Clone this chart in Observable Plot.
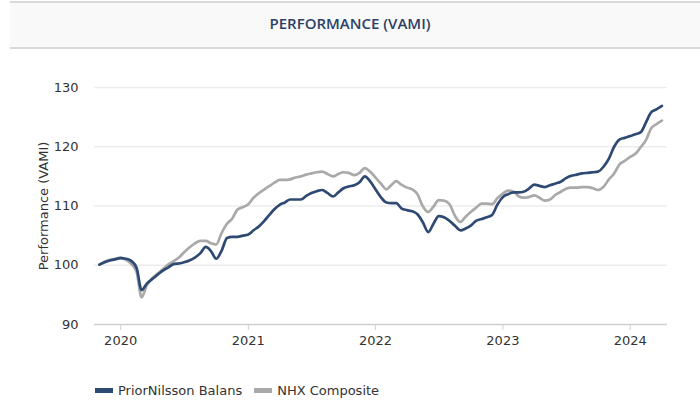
<!DOCTYPE html>
<html><head><meta charset="utf-8">
<script src="https://cdn.jsdelivr.net/npm/d3@7"></script>
<script src="https://cdn.jsdelivr.net/npm/@observablehq/plot@0.6"></script>
<style>
html,body{margin:0;padding:0;background:#fff;}
#wrap{position:relative;width:700px;height:405px;overflow:hidden;font-family:"DejaVu Sans",Verdana,sans-serif;}
#band{position:absolute;left:10px;top:1px;width:690px;height:44px;background:#f9f9f9;border-top:2px solid #d9d9d9;border-bottom:2px solid #d9d9d9;}
#title{position:absolute;left:0;width:700px;top:13px;text-align:center;font-family:"Open Sans",sans-serif;font-weight:600;font-size:15px;color:#2c4167;}
#chart{position:absolute;left:0;top:60px;}
#legend{position:absolute;left:95px;top:383px;display:flex;align-items:center;font-size:13px;color:#333;white-space:nowrap;}
.sw{display:inline-block;width:18px;height:5px;margin-right:5px;}
.item{display:flex;align-items:center;margin-right:12px;}
</style></head>
<body><div id="wrap">
<div id="band"></div>
<div id="title">PERFORMANCE (VAMI)</div>
<div id="chart"></div>
<div id="legend"></div>
</div>
<script>
const seriesNames = ["PriorNilsson Balans", "NHX Composite"];
const seriesColors = ["#2f4a72", "#a9a9a9"];
const yearTicks = ["2020", "2021", "2022", "2023", "2024"];
const yTicks = [90, 100, 110, 120, 130];
// semi-monthly observation dates (1st and 16th of each month), 2019-11-01 .. 2024-04-01
const dates = [];
for (const m of d3.utcMonth.range(new Date("2019-11-01"), new Date("2024-04-02"))) {
  dates.push(m);
  const mid = new Date(m); mid.setUTCDate(16);
  if (mid <= new Date("2024-04-01")) dates.push(mid);
}
dates.length = 107;
const prior = [
100.1,100.5,100.8,101.0,101.2,101.1,100.7,99.5,95.8,96.9,
97.7,98.4,99.1,99.6,100.2,100.3,100.5,100.8,101.3,102.0,
103.1,102.4,101.1,102.4,104.6,104.8,104.8,105.0,105.2,105.9,
106.6,107.5,108.4,109.4,110.2,110.6,111.1,111.1,111.1,111.7,
112.2,112.5,112.7,112.2,111.6,112.3,113.0,113.3,113.5,114.0,
115.0,114.2,112.8,111.5,110.6,110.5,110.5,109.6,109.3,109.1,
108.6,107.3,105.6,107.0,108.3,108.1,107.5,106.7,105.9,106.2,
106.7,107.5,107.8,108.1,108.5,110.2,111.5,112.0,112.3,112.3,
112.4,112.9,113.6,113.4,113.2,113.5,113.8,114.1,114.7,115.1,
115.3,115.5,115.6,115.7,115.8,116.6,118.0,120.0,121.2,121.5,
121.8,122.1,122.5,124.2,125.8,126.3,126.9];
const nhx = [
100.1,100.6,100.9,101.1,101.3,100.9,100.2,98.8,94.6,96.6,
97.8,98.6,99.3,100.1,100.7,101.3,102.2,103.0,103.7,104.1,
104.1,103.7,103.5,105.4,107.0,107.9,109.4,109.8,110.3,111.4,
112.2,112.8,113.3,113.9,114.4,114.4,114.5,114.8,115.0,115.3,
115.5,115.7,115.8,115.4,115.0,115.4,115.7,115.6,115.2,115.6,
116.4,115.8,114.8,113.8,112.8,113.6,114.2,113.6,113.1,112.8,
112.0,110.0,109.0,109.9,111.0,110.9,110.3,108.4,107.3,108.2,
109.0,109.7,110.4,110.4,110.3,111.3,112.1,112.6,112.4,111.6,
111.4,111.5,111.8,111.4,110.9,111.1,111.9,112.4,112.9,113.1,
113.1,113.2,113.2,113.0,112.7,113.2,114.5,115.5,117.0,117.6,
118.3,118.8,120.0,121.2,123.1,123.8,124.4];

const data = [];
[nhx, prior].forEach((vals, si) => {
  const name = si === 0 ? seriesNames[1] : seriesNames[0];
  vals.forEach((v, i) => data.push({date: dates[i], value: v, series: name}));
});
const tickDates = yearTicks.map(y => new Date(`${y}-01-01`));

const chart = Plot.plot({
  width: 700, height: 300,
  marginLeft: 94, marginRight: 33, marginTop: 27, marginBottom: 36,
  style: {fontFamily: "'DejaVu Sans', Verdana, sans-serif", fontSize: "13px", color: "#333", background: "transparent"},
  x: {type: "utc", domain: [new Date("2019-10-18"), new Date("2024-04-17")]},
  y: {domain: [90, 130]},
  color: {domain: seriesNames, range: seriesColors},
  marks: [
    Plot.gridY([100, 110, 120, 130], {stroke: "#ececec", strokeOpacity: 1, strokeWidth: 1.5}),
    Plot.ruleY([90], {stroke: "#cfcfcf", strokeWidth: 1.5}),
    Plot.axisX({ticks: tickDates, tickFormat: "%Y", tickSize: 6, tickPadding: 5, stroke: "#cfcfcf", fill: "#333", label: null}),
    Plot.axisY({ticks: yTicks, tickSize: 0, tickPadding: 16, fill: "#333", label: "Performance (VAMI)", labelAnchor: "center", labelArrow: "none", labelOffset: 56}),
    Plot.lineY(data, {x: "date", y: "value", z: "series", stroke: "series", strokeWidth: 2.7, curve: "monotone-x"})
  ]
});
document.getElementById("chart").appendChild(chart);

const legend = document.getElementById("legend");
seriesNames.forEach((n, i) => {
  const it = document.createElement("span"); it.className = "item";
  const sw = document.createElement("span"); sw.className = "sw"; sw.style.background = seriesColors[i];
  it.appendChild(sw); it.appendChild(document.createTextNode(n));
  legend.appendChild(it);
});
</script>
</body></html>
